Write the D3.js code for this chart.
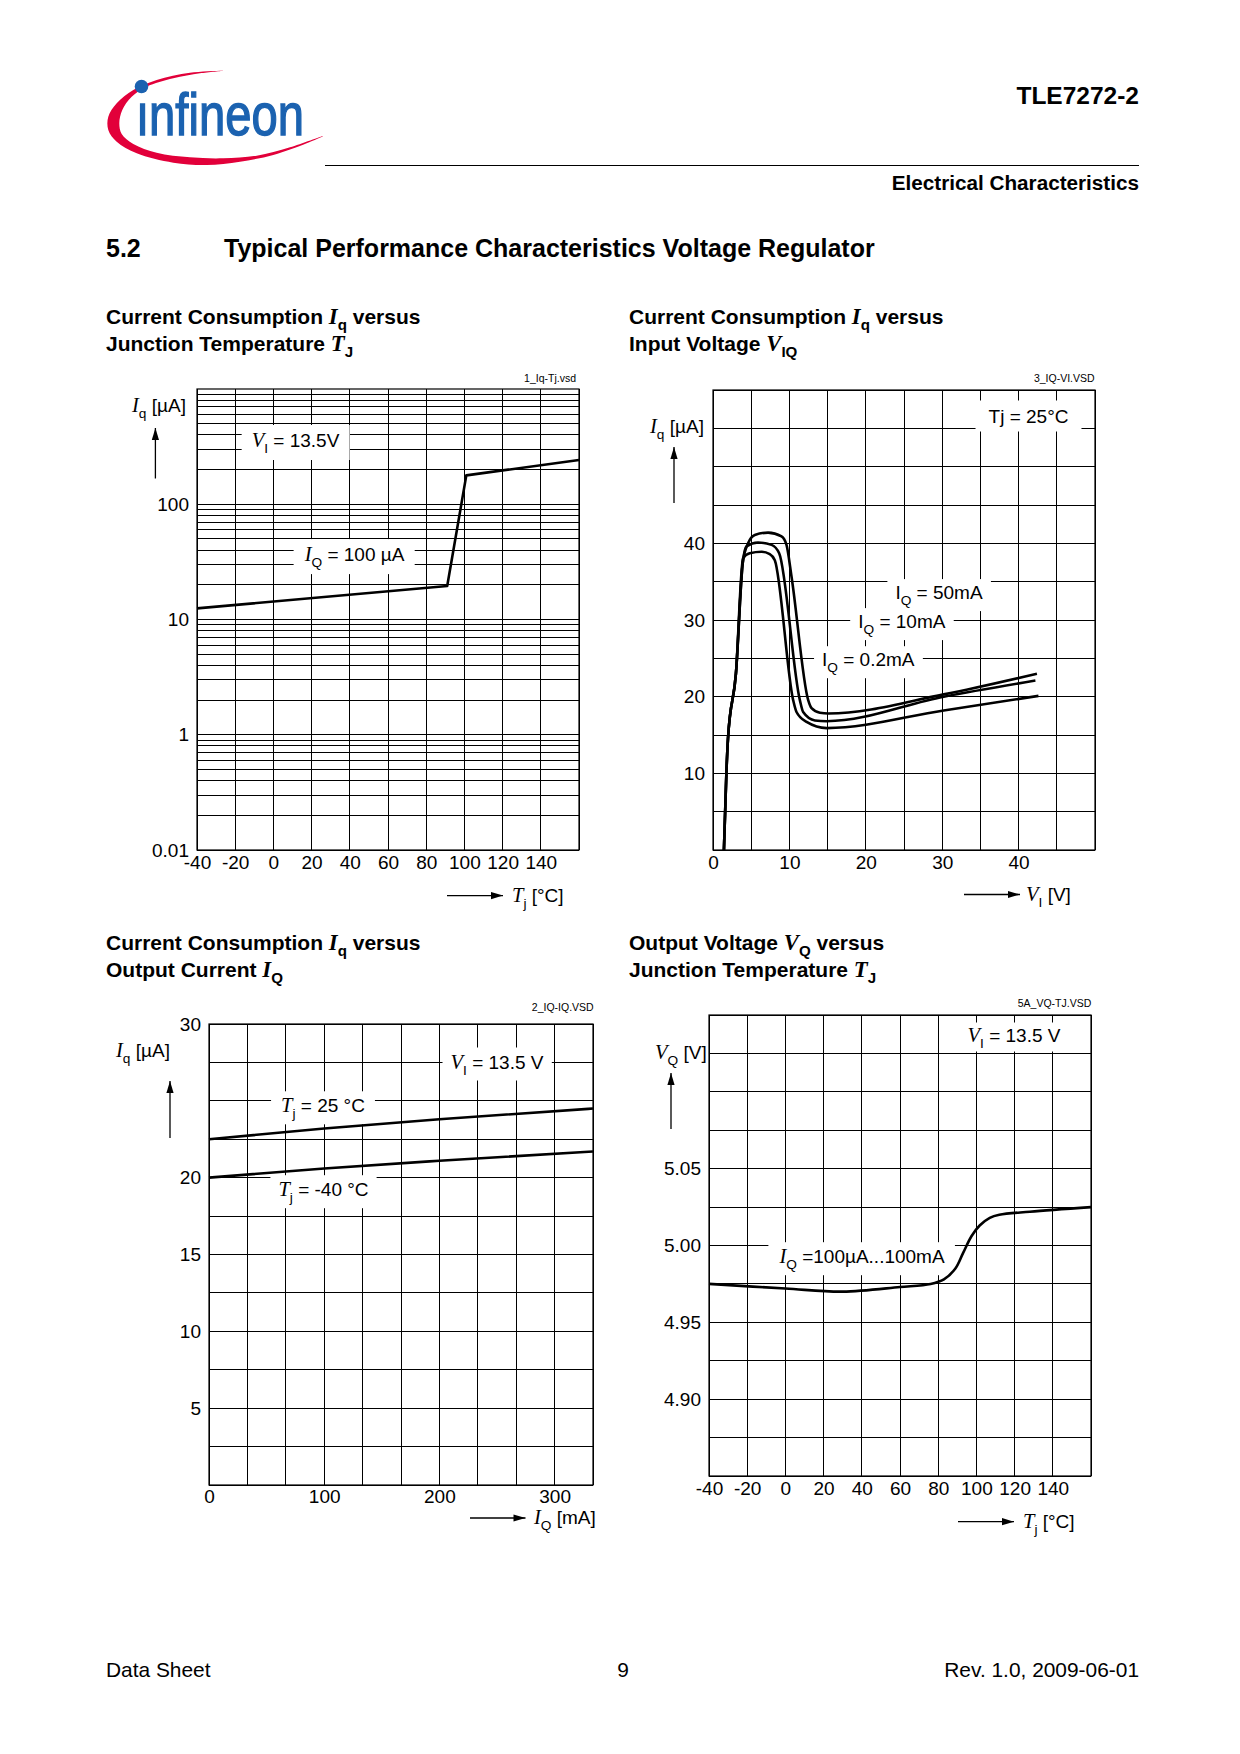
<!DOCTYPE html>
<html><head><meta charset="utf-8">
<script src="https://cdn.jsdelivr.net/npm/d3@7"></script>
<style>body{margin:0;background:#fff} svg{display:block}</style>
</head><body>
<script>
// ---------------- data ----------------
// Chart 1: Iq vs Tj (log)
const c1Temp = [-40, 91, 101, 160];
const c1Iq = [12.5, 19.5, 178, 242];
const c1XTicks = [-40, -20, 0, 20, 40, 60, 80, 100, 120, 140];
const c1YTickValues = [0.1, 1, 10, 100];
const c1YTickLabels = ["0.01", "1", "10", "100"];

// Chart 2: Iq vs VI
const c2XTicks = [0, 10, 20, 30, 40];
const c2YTicks = [10, 20, 30, 40];
const c2V_02mA = [1.43, 1.75, 1.96, 3.0, 3.93, 4.81, 6.35, 7.43, 8.09, 10.49, 10.93, 12.25, 14.87, 30.2, 42.6];
const c2I_02mA = [0, 10, 14.5, 23, 38.05, 38.7, 38.9, 38.6, 37.8, 19.55, 18.0, 16.7, 15.9, 18.2, 20.1];
const c2V_10mA = [1.43, 1.75, 1.96, 3.0, 3.9, 4.38, 5.9, 7.66, 8.66, 11.37, 11.8, 13.34, 14.87, 30.2, 42.2];
const c2I_10mA = [0, 10, 14.5, 23, 37.5, 39.6, 40.1, 39.8, 38.7, 19.55, 18.0, 16.9, 16.8, 20.0, 22.1];
const c2V_50mA = [1.43, 1.75, 1.96, 3.0, 3.9, 4.59, 5.47, 7.21, 8.97, 9.62, 10.28, 12.46, 12.9, 14.0, 15.1, 30.2, 42.4];
const c2I_50mA = [0, 10, 14.5, 23, 37.5, 40.0, 41.1, 41.4, 40.9, 39.8, 35.65, 19.55, 18.5, 17.9, 17.8, 20.3, 23.0];

// Chart 3: Iq vs IQ
const c3XTicks = [0, 100, 200, 300];
const c3YTicks = [5, 10, 15, 20, 30];
const c3IQ = [0, 100, 200, 333.3];
const c3Iq_25 = [22.5, 23.2, 23.8, 24.5];
const c3Iq_m40 = [20.0, 20.6, 21.1, 21.7];

// Chart 4: VQ vs Tj
const c4XTicks = [-40, -20, 0, 20, 40, 60, 80, 100, 120, 140];
const c4YTicks = [4.90, 4.95, 5.00, 5.05];
const c4Temp = [-40, 0, 30, 60, 76, 83, 89, 93, 97.4, 101.7, 107, 112, 128, 160];
const c4VQ = [4.975, 4.972, 4.970, 4.973, 4.975, 4.978, 4.985, 4.995, 5.006, 5.013, 5.018, 5.020, 5.022, 5.025];

// ---------------- drawing ----------------
const SANS = "'Liberation Sans', Arial, Helvetica, sans-serif";
const SERIF = "'Liberation Serif', 'Times New Roman', serif";
const svg = d3.select("body").append("svg").attr("width", 1240).attr("height", 1754);

function rich(parent, x, y, segs, o = {}) {
  const fs = o.fs || 19;
  const t = parent.append("text").attr("x", x).attr("y", y)
    .attr("font-size", fs).attr("font-family", SANS)
    .attr("text-anchor", o.anchor || "start")
    .attr("font-weight", o.bold ? "bold" : "normal").attr("fill", "#000");
  let shift = 0;
  segs.forEach(s => {
    const ts = t.append("tspan").text(s.t);
    const target = s.sub ? Math.round(fs * 0.3) : 0;
    if (target !== shift) { ts.attr("dy", target - shift); shift = target; }
    if (s.sub) ts.attr("font-size", fs * 0.72);
    if (s.it) ts.attr("font-family", SERIF).attr("font-style", "italic").attr("font-size", fs * 1.08);
  });
  return t;
}
function boxLabel(parent, cx, cy, segs, px = 8, py = 3) {
  const t = rich(parent, cx, cy + 6.5, segs, { anchor: "middle" });
  const b = t.node().getBBox();
  parent.insert("rect", () => t.node())
    .attr("x", b.x - px).attr("y", b.y - py)
    .attr("width", b.width + 2 * px).attr("height", b.height + 2 * py)
    .attr("fill", "#fff");
}
function arrow(parent, x1, y1, x2, y2) {
  parent.append("line").attr("x1", x1).attr("y1", y1).attr("x2", x2).attr("y2", y2)
    .attr("stroke", "#000").attr("stroke-width", 1.3);
  const a = Math.atan2(y2 - y1, x2 - x1), L = 12, w = 3.6;
  const bx = x2 - L * Math.cos(a), by = y2 - L * Math.sin(a);
  const px = -Math.sin(a) * w, py = Math.cos(a) * w;
  parent.append("path").attr("d", `M${x2},${y2}L${bx + px},${by + py}L${bx - px},${by - py}Z`).attr("fill", "#000");
}
function grid(g, x, y, xs, ys) {
  const [X0, X1] = x.range(), [Y0, Y1] = y.range();
  g.selectAll(null).data(xs).join("line")
    .attr("x1", d => x(d)).attr("x2", d => x(d)).attr("y1", Y0).attr("y2", Y1)
    .attr("stroke", "#000").attr("stroke-width", 1).attr("shape-rendering", "crispEdges");
  g.selectAll(null).data(ys).join("line")
    .attr("y1", d => y(d)).attr("y2", d => y(d)).attr("x1", X0).attr("x2", X1)
    .attr("stroke", "#000").attr("stroke-width", 1).attr("shape-rendering", "crispEdges");
  g.append("rect").attr("x", X0).attr("y", Y1).attr("width", X1 - X0).attr("height", Y0 - Y1)
    .attr("fill", "none").attr("stroke", "#000").attr("stroke-width", 1.2);
}
function axes(g, x, y, xt, yt, xfmt, yfmt, padB = 6, padL = 8) {
  const [X0] = x.range(), [Y0] = y.range();
  const ax = g.append("g").attr("transform", `translate(0,${Y0})`)
    .call(d3.axisBottom(x).tickValues(xt).tickSize(0).tickPadding(padB).tickFormat(xfmt));
  const ay = g.append("g").attr("transform", `translate(${X0},0)`)
    .call(d3.axisLeft(y).tickValues(yt).tickSize(0).tickPadding(padL).tickFormat(yfmt));
  [ax, ay].forEach(a => {
    a.select(".domain").remove();
    a.attr("font-family", SANS).attr("font-size", 19);
    a.selectAll("text").attr("fill", "#000");
  });
}
function curve(g, x, y, xs, ys, cf = d3.curveMonotoneX, w = 2.6) {
  const pts = xs.map((v, i) => [v, ys[i]]);
  g.append("path").attr("d", d3.line().x(d => x(d[0])).y(d => y(d[1])).curve(cf)(pts))
    .attr("fill", "none").attr("stroke", "#000").attr("stroke-width", w).attr("stroke-linejoin", "round");
}
function fileName(g, x, y, s) {
  g.append("text").attr("x", x).attr("y", y).attr("text-anchor", "end")
    .attr("font-family", SANS).attr("font-size", 10.5).attr("fill", "#000").text(s);
}

// ---- logo ----
const logo = svg.append("g");
const swoosh = [[223.3,70.7],[190,72.7],[156.7,80],[133.3,90],[116.7,103.3],[108.3,116.7],[108.3,130],[116.7,141.7],
  [136.7,153.3],[173.3,162.7],[206.7,165],[240,161.7],[273.3,155],[306.7,143.3],[323.3,136],
  [290,147.3],[256.7,155.7],[223.3,158.3],[190,157.3],[156.7,152.7],[133.3,144],[121.7,134],[119.3,123.3],
  [122.3,110],[131.7,96.7],[146.7,86.7],[173.3,78.3],[200,73.3]];
logo.append("path").attr("d", d3.line().curve(d3.curveCatmullRomClosed)(swoosh)).attr("fill", "#e2003a");
logo.append("text").attr("x", 136).attr("y", 135).attr("font-family", "'Liberation Sans Narrow', " + SANS)
  .attr("font-size", 59).attr("textLength", 168).attr("lengthAdjust", "spacingAndGlyphs")
  .attr("fill", "#1b62b0").attr("stroke", "#1b62b0").attr("stroke-width", 1.4).text("\u0131nfineon");
logo.append("circle").attr("cx", 141.5).attr("cy", 86.5).attr("r", 6.8).attr("fill", "#1b62b0");

// ---- header ----
svg.append("text").attr("x", 1139).attr("y", 104).attr("text-anchor", "end").attr("font-family", SANS)
  .attr("font-weight", "bold").attr("font-size", 24.5).text("TLE7272-2");
svg.append("line").attr("x1", 325).attr("x2", 1139).attr("y1", 165.5).attr("y2", 165.5).attr("stroke", "#000").attr("stroke-width", 1.2);
svg.append("text").attr("x", 1139).attr("y", 190).attr("text-anchor", "end").attr("font-family", SANS)
  .attr("font-weight", "bold").attr("font-size", 20.7).text("Electrical Characteristics");
svg.append("text").attr("x", 106).attr("y", 257).attr("font-family", SANS).attr("font-weight", "bold")
  .attr("font-size", 25).text("5.2");
svg.append("text").attr("x", 224).attr("y", 257).attr("font-family", SANS).attr("font-weight", "bold")
  .attr("font-size", 25).text("Typical Performance Characteristics Voltage Regulator");

// ---- chart titles ----
const T = { fs: 21, bold: true };
rich(svg, 106, 324, [{t:"Current Consumption "},{t:"I",it:true},{t:"q",sub:true},{t:" versus"}], T);
rich(svg, 106, 351, [{t:"Junction Temperature "},{t:"T",it:true},{t:"J",sub:true}], T);
rich(svg, 629, 324, [{t:"Current Consumption "},{t:"I",it:true},{t:"q",sub:true},{t:" versus"}], T);
rich(svg, 629, 351, [{t:"Input Voltage "},{t:"V",it:true},{t:"IQ",sub:true}], T);
rich(svg, 106, 950, [{t:"Current Consumption "},{t:"I",it:true},{t:"q",sub:true},{t:" versus"}], T);
rich(svg, 106, 977, [{t:"Output Current "},{t:"I",it:true},{t:"Q",sub:true}], T);
rich(svg, 629, 950, [{t:"Output Voltage "},{t:"V",it:true},{t:"Q",sub:true},{t:" versus"}], T);
rich(svg, 629, 977, [{t:"Junction Temperature "},{t:"T",it:true},{t:"J",sub:true}], T);

// ---- Chart 1 ----
{
  const g = svg.append("g");
  const x = d3.scaleLinear([-40, 160], [197, 579]);
  const y = d3.scaleLog([0.1, 1000], [850, 389]);
  const ys = [];
  [0.1, 1, 10, 100].forEach(k => d3.range(1, 10).forEach(m => ys.push(k * m)));
  grid(g, x, y, d3.range(-40, 161, 20), ys);
  axes(g, x, y, c1XTicks, c1YTickValues, d => d, d => c1YTickLabels[c1YTickValues.indexOf(d)], 6, 8);
  boxLabel(g, 295.5, 440.5, [{t:"V",it:true},{t:"I",sub:true},{t:" = 13.5V"}], 10, 4);
  boxLabel(g, 354.5, 554.6, [{t:"I",it:true},{t:"Q",sub:true},{t:" = 100 µA"}], 10, 4);
  curve(g, x, y, c1Temp, c1Iq, d3.curveLinear);
  rich(g, 132, 412, [{t:"I",it:true},{t:"q",sub:true},{t:" [µA]"}]);
  arrow(g, 155.4, 478.5, 155.4, 428);
  arrow(g, 447, 895.6, 503, 895.6);
  rich(g, 512, 902, [{t:"T",it:true},{t:"j",sub:true},{t:" [°C]"}]);
  fileName(g, 576, 382, "1_Iq-Tj.vsd");
}

// ---- Chart 2 ----
{
  const g = svg.append("g");
  const x = d3.scaleLinear([0, 50], [713, 1095]);
  const y = d3.scaleLinear([0, 60], [850, 390]);
  grid(g, x, y, d3.range(0, 51, 5), d3.range(0, 61, 5));
  axes(g, x, y, c2XTicks, c2YTicks, d => d, d => d, 6, 8);
  boxLabel(g, 1028.5, 416, [{t:"Tj = 25°C"}], 13, 5);
  boxLabel(g, 939, 592.6, [{t:"I"},{t:"Q",sub:true},{t:" = 50mA"}], 8, 3);
  boxLabel(g, 901.8, 621.6, [{t:"I"},{t:"Q",sub:true},{t:" = 10mA"}], 8, 3);
  boxLabel(g, 868.3, 659.7, [{t:"I"},{t:"Q",sub:true},{t:" = 0.2mA"}], 8, 3);
  curve(g, x, y, c2V_02mA, c2I_02mA);
  curve(g, x, y, c2V_10mA, c2I_10mA);
  curve(g, x, y, c2V_50mA, c2I_50mA);
  rich(g, 650, 433, [{t:"I",it:true},{t:"q",sub:true},{t:" [µA]"}]);
  arrow(g, 674, 503, 674, 447);
  arrow(g, 964, 894.5, 1020, 894.5);
  rich(g, 1026, 901, [{t:"V",it:true},{t:"I",sub:true},{t:" [V]"}]);
  fileName(g, 1094.6, 382, "3_IQ-VI.VSD");
}

// ---- Chart 3 ----
{
  const g = svg.append("g");
  const x = d3.scaleLinear([0, 1000 / 3], [209, 593]);
  const y = d3.scaleLinear([0, 30], [1485, 1024]);
  grid(g, x, y, d3.range(0, 11).map(i => i * 100 / 3), d3.range(0, 13).map(i => i * 2.5));
  axes(g, x, y, c3XTicks, c3YTicks, d => d, d => d, 5, 8);
  boxLabel(g, 497, 1062, [{t:"V",it:true},{t:"I",sub:true},{t:" = 13.5 V"}], 8, 3);
  boxLabel(g, 323, 1105.8, [{t:"T",it:true},{t:"j",sub:true},{t:" = 25 °C"}], 10, 3);
  boxLabel(g, 323.5, 1189.7, [{t:"T",it:true},{t:"j",sub:true},{t:" = -40 °C"}], 8, 3);
  curve(g, x, y, c3IQ, c3Iq_25);
  curve(g, x, y, c3IQ, c3Iq_m40);
  rich(g, 116, 1057, [{t:"I",it:true},{t:"q",sub:true},{t:" [µA]"}]);
  arrow(g, 170, 1138, 170, 1081);
  arrow(g, 470, 1518, 525.5, 1518);
  rich(g, 534, 1524, [{t:"I",it:true},{t:"Q",sub:true},{t:" [mA]"}]);
  fileName(g, 593.7, 1011.4, "2_IQ-IQ.VSD");
}

// ---- Chart 4 ----
{
  const g = svg.append("g");
  const x = d3.scaleLinear([-40, 160], [709, 1091]);
  const y = d3.scaleLinear([4.85, 5.15], [1476, 1015]);
  grid(g, x, y, d3.range(-40, 161, 20), d3.range(0, 13).map(i => 4.85 + i * 0.025));
  axes(g, x, y, c4XTicks, c4YTicks, d => d, d3.format(".2f"), 6, 8);
  boxLabel(g, 1014, 1035, [{t:"V",it:true},{t:"I",sub:true},{t:" = 13.5 V"}], 8, 1);
  boxLabel(g, 862, 1256.7, [{t:"I",it:true},{t:"Q",sub:true},{t:" =100µA...100mA"}], 10, 3);
  curve(g, x, y, c4Temp, c4VQ, d3.curveCatmullRom.alpha(0.5));
  rich(g, 655, 1059, [{t:"V",it:true},{t:"Q",sub:true},{t:" [V]"}]);
  arrow(g, 671, 1129, 671, 1073);
  arrow(g, 958, 1521.7, 1014, 1521.7);
  rich(g, 1023, 1528, [{t:"T",it:true},{t:"j",sub:true},{t:" [°C]"}]);
  fileName(g, 1091.3, 1007, "5A_VQ-TJ.VSD");
}

// ---- footer ----
const F = 20.9;
svg.append("text").attr("x", 106).attr("y", 1677).attr("font-family", SANS).attr("font-size", F).text("Data Sheet");
svg.append("text").attr("x", 623).attr("y", 1677).attr("text-anchor", "middle").attr("font-family", SANS).attr("font-size", F).text("9");
svg.append("text").attr("x", 1139).attr("y", 1677).attr("text-anchor", "end").attr("font-family", SANS).attr("font-size", F).text("Rev. 1.0, 2009-06-01");
</script>
</body></html>
